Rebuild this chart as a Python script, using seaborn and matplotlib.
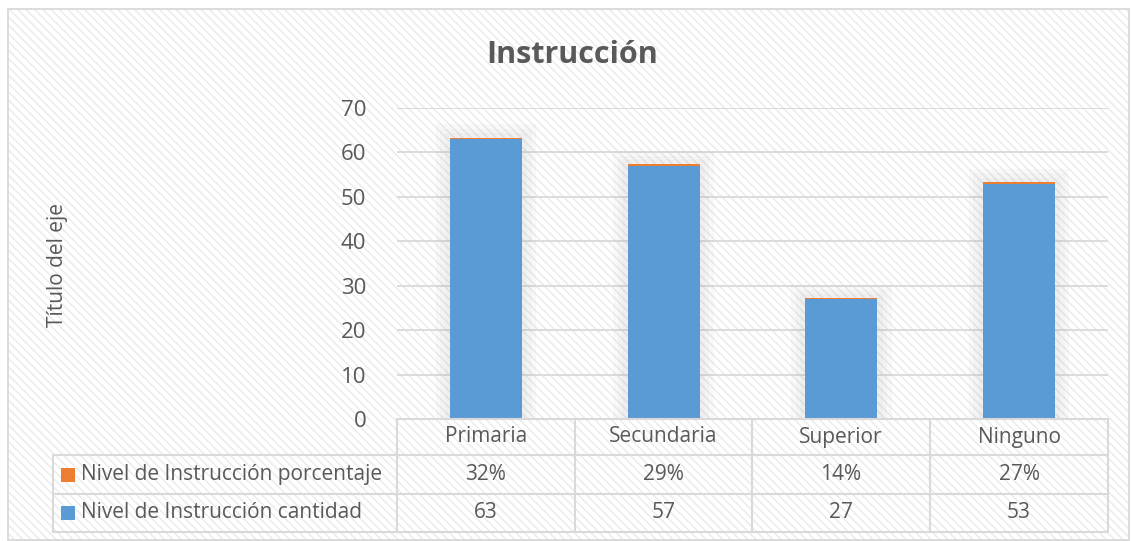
import matplotlib
matplotlib.use("Agg")
import matplotlib.pyplot as plt
import matplotlib.patches as mpatches
from matplotlib.lines import Line2D
import pandas as pd
import seaborn as sns

# ── Data ─────────────────────────────────────────────────────────────────────
categorias = ["Primaria", "Secundaria", "Superior", "Ninguno"]
cantidad = [63, 57, 27, 53]
porcentaje = [0.32, 0.29, 0.14, 0.27]
serie_pct = "Nivel de Instrucción porcentaje"
serie_cant = "Nivel de Instrucción cantidad"

C_BLUE = "#5B9BD5"
C_ORANGE = "#ED7D31"
C_TEXT = "#595959"
C_GRID = "#D9D9D9"

sns.set_theme(style="white")
plt.rcParams["font.family"] = ["Open Sans", "DejaVu Sans"]

W, H = 1132, 541
fig = plt.figure(figsize=(W / 100, H / 100), dpi=100)
fig.patch.set_facecolor("white")


def fx(x):
    return x / W


def fy(y):
    return 1 - y / H


# hatched background + outer frame
bg = mpatches.Rectangle((fx(8), fy(541)), fx(1129) - fx(8), fy(9) - fy(541),
                        transform=fig.transFigure, facecolor="white",
                        edgecolor="#EAEAEA", hatch="\\\\\\\\", linewidth=0, zorder=-10)
fig.add_artist(bg)
frame = mpatches.Rectangle((fx(8), fy(540)), fx(1129) - fx(8), fy(9) - fy(540),
                           transform=fig.transFigure, facecolor="none",
                           edgecolor="#D9D9D9", linewidth=1.3, zorder=-5)
fig.add_artist(frame)

# ── Plot area ────────────────────────────────────────────────────────────────
x0, x1, ytop, ybot = 397, 1108, 108, 419
ax = fig.add_axes([fx(x0), fy(ybot), fx(x1) - fx(x0), fy(ytop) - fy(ybot)])
ax.patch.set_alpha(0)

df = pd.DataFrame({"cat": categorias, "cant": cantidad, "pct": porcentaje})
df["total"] = df["cant"] + df["pct"]

# soft shadow behind the columns
for k, extra in enumerate([0.16, 0.11, 0.06]):
    sns.barplot(data=df.assign(sh=df["total"] + 3.0 - k), x="cat", y="sh",
                color="#9A9A9A", alpha=0.05, saturation=1, linewidth=0,
                width=0.405 + extra, ax=ax, zorder=2)

sns.barplot(data=df, x="cat", y="total", color=C_ORANGE, saturation=1,
            linewidth=0, width=0.405, ax=ax, zorder=3)
sns.barplot(data=df, x="cat", y="cant", color=C_BLUE, saturation=1,
            linewidth=0, width=0.405, ax=ax, zorder=4)

ax.set_ylim(0, 70)
ax.set_xlim(-0.5, 3.5)
ax.set_yticks(range(0, 71, 10))
ax.set_xticks([])
ax.set_xlabel("")
ax.set_ylabel("")
ax.tick_params(axis="y", length=0, pad=22, labelsize=16, labelcolor=C_TEXT)
ax.yaxis.grid(True, color=C_GRID, linewidth=1.3)
ax.set_axisbelow(True)
for s in ax.spines.values():
    s.set_visible(False)

fig.text(fx(572), fy(55), "Instrucción", ha="center", va="center",
         fontsize=22, fontweight="bold", color=C_TEXT)
fig.text(fx(57), fy(265), "Título del eje", ha="center", va="center",
         rotation=90, fontsize=15, color=C_TEXT)

# ── Data table ───────────────────────────────────────────────────────────────
cols = [397, 575, 752, 930, 1108]
rows = [419, 455, 494, 532]
tl = 53


def hline(y, xa, xb):
    fig.add_artist(Line2D([fx(xa), fx(xb)], [fy(y), fy(y)], color=C_GRID,
                          linewidth=1.5, transform=fig.transFigure))


def vline(x, ya, yb):
    fig.add_artist(Line2D([fx(x), fx(x)], [fy(ya), fy(yb)], color=C_GRID,
                          linewidth=1.5, transform=fig.transFigure))


hline(rows[0], cols[0], cols[-1])
for y in rows[1:]:
    hline(y, tl, cols[-1])
for x in cols:
    vline(x, rows[0], rows[-1])
vline(tl, rows[1], rows[-1])

for i, c in enumerate(categorias):
    xc = (cols[i] + cols[i + 1]) / 2
    fig.text(fx(xc), fy((rows[0] + rows[1]) / 2), c, ha="center", va="center",
             fontsize=15, color=C_TEXT)
    fig.text(fx(xc), fy((rows[1] + rows[2]) / 2), f"{porcentaje[i]:.0%}",
             ha="center", va="center", fontsize=15, color=C_TEXT)
    fig.text(fx(xc), fy((rows[2] + rows[3]) / 2), f"{cantidad[i]}",
             ha="center", va="center", fontsize=15, color=C_TEXT)

for r, (label, col) in enumerate([(serie_pct, C_ORANGE), (serie_cant, C_BLUE)]):
    yc = (rows[r + 1] + rows[r + 2]) / 2
    fig.add_artist(mpatches.Rectangle((fx(61), fy(yc + 7)), fx(14), 14 / H,
                                      transform=fig.transFigure, facecolor=col,
                                      edgecolor="none"))
    fig.text(fx(81), fy(yc), label, ha="left", va="center", fontsize=15,
             color=C_TEXT)

fig.savefig("out.png", dpi=100)
